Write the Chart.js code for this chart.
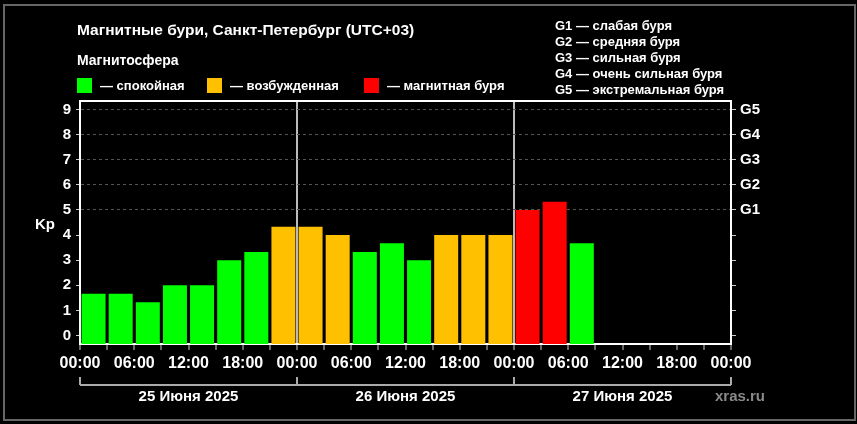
<!DOCTYPE html>
<html>
<head>
<meta charset="utf-8">
<script src="https://cdn.jsdelivr.net/npm/chart.js@4.4.0/dist/chart.umd.min.js"></script>
<style>
    html, body { margin: 0; padding: 0; background: #000; }
    body { width: 857px; height: 424px; position: relative; overflow: hidden;
           font-family: "Liberation Sans", Arial, sans-serif; font-weight: bold; color: #fff; }
    #frame { position: absolute; left: 3px; top: 4px; width: 849px; height: 413px; border: 2px solid #666; }
    canvas { position: absolute; left: 0; top: 0; }
    .txt { position: absolute; line-height: 1; white-space: nowrap; }
    .sw { position: absolute; width: 15px; height: 15px; top: 78px; }
</style>
</head>
<body>
<div id="frame"></div>
<canvas id="kp-chart" width="857" height="424"></canvas>

<div class="txt" style="left:77px; top:22px; font-size:15.5px;">Магнитные бури, Санкт-Петербург (UTC+03)</div>
<div class="txt" style="left:77px; top:53px; font-size:14px;">Магнитосфера</div>
<div class="sw" style="left:77px; background:#00ff00;"></div>
<div class="txt" style="left:100px; top:79px; font-size:13px;">— спокойная</div>
<div class="sw" style="left:207px; background:#ffc000;"></div>
<div class="txt" style="left:230px; top:79px; font-size:13px;">— возбужденная</div>
<div class="sw" style="left:364px; background:#ff0000;"></div>
<div class="txt" style="left:387px; top:79px; font-size:13px;">— магнитная буря</div>

<div class="txt" style="left:555px; top:18px; font-size:13px; line-height:16px;">
    G1 — слабая буря<br>G2 — средняя буря<br>G3 — сильная буря<br>G4 — очень сильная буря<br>G5 — экстремальная буря
</div>
<div class="txt" style="left:35px; top:216px; font-size:15px;">Kp</div>

<script>
// Kp index, 3-hour intervals starting 25.06.2025 00:00 (UTC+03)
const kpValues = [1.67, 1.67, 1.33, 2, 2, 3, 3.33, 4.33,
                  4.33, 4, 3.33, 3.67, 3, 4, 4, 4,
                  5, 5.33, 3.67];
const intervalHours = 3;
const dayLabels = ['25 Июня 2025', '26 Июня 2025', '27 Июня 2025'];
const kpTicks = [0, 1, 2, 3, 4, 5, 6, 7, 8, 9];
const stormLabels = { 5: 'G1', 6: 'G2', 7: 'G3', 8: 'G4', 9: 'G5' };
const hourTicks = [0, 3, 6, 9, 12, 15, 18, 21, 24, 27, 30, 33, 36, 39, 42, 45, 48, 51, 54, 57, 60, 63, 66, 69, 72];

const yMin = -1 / 3;
const yMax = 9 + 1 / 3;

function kpColor(v) {
    if (v >= 5) return '#ff0000';
    if (v >= 4) return '#ffc000';
    return '#00ff00';
}

const points = kpValues.map((v, i) => ({ x: i * intervalHours + intervalHours / 2, y: v }));

const frameAndDates = {
    id: 'frameAndDates',
    afterDraw(chart) {
        const ctx = chart.ctx;
        const area = chart.chartArea;
        const x = chart.scales.x;

        ctx.save();
        // top edge of plot frame
        ctx.strokeStyle = '#fff';
        ctx.lineWidth = 2;
        ctx.beginPath();
        ctx.moveTo(area.left, area.top);
        ctx.lineTo(area.right, area.top);
        ctx.stroke();

        // day brackets under the axis
        ctx.strokeStyle = '#aaa';
        ctx.lineWidth = 2;
        ctx.beginPath();
        ctx.moveTo(x.getPixelForValue(0), 385);
        ctx.lineTo(x.getPixelForValue(72), 385);
        for (let d = 0; d <= dayLabels.length; d++) {
            const px = x.getPixelForValue(d * 24);
            ctx.moveTo(px, 377);
            ctx.lineTo(px, 385);
        }
        ctx.stroke();

        ctx.fillStyle = '#fff';
        ctx.font = 'bold 15px "Liberation Sans", Arial, sans-serif';
        ctx.textAlign = 'center';
        ctx.textBaseline = 'alphabetic';
        dayLabels.forEach((label, d) => {
            ctx.fillText(label, x.getPixelForValue(d * 24 + 12), 401);
        });

        ctx.fillStyle = '#8a8a8a';
        ctx.textAlign = 'left';
        ctx.fillText('xras.ru', 715, 401);
        ctx.restore();
    }
};

const tickFont = { family: '"Liberation Sans", Arial, sans-serif', weight: 'bold' };

new Chart(document.getElementById('kp-chart'), {
    type: 'bar',
    data: {
        datasets: [{
            data: points,
            backgroundColor: kpValues.map(kpColor),
            borderWidth: 0,
            base: yMin,
            barPercentage: 0.885,
            categoryPercentage: 1
        }]
    },
    options: {
        responsive: false,
        animation: false,
        layout: { padding: { top: 101, left: 0, right: 0, bottom: 0 } },
        plugins: {
            legend: { display: false },
            tooltip: { enabled: false }
        },
        scales: {
            x: {
                type: 'linear',
                min: 0,
                max: 72,
                offset: false,
                afterBuildTicks: s => { s.ticks = hourTicks.map(v => ({ value: v })); },
                afterFit: s => { s.height = 80; },
                ticks: {
                    autoSkip: false,
                    maxRotation: 0,
                    padding: 4,
                    color: '#fff',
                    font: { ...tickFont, size: 16 },
                    callback: v => (v % 6 === 0 ? String(v % 24).padStart(2, '0') + ':00' : '')
                },
                grid: {
                    offset: false,
                    drawOnChartArea: true,
                    color: c => (c.tick && c.tick.value % 24 === 0 && c.tick.value > 0 && c.tick.value < 72 ? '#bbb' : 'transparent'),
                    lineWidth: 2,
                    tickColor: '#ccc',
                    tickLength: 6,
                    tickWidth: 1
                },
                border: { color: '#fff', width: 2 }
            },
            y: {
                position: 'left',
                min: yMin,
                max: yMax,
                afterBuildTicks: s => { s.ticks = kpTicks.map(v => ({ value: v })); },
                afterFit: s => { s.width = 80; },
                ticks: {
                    padding: 5,
                    color: '#fff',
                    font: { ...tickFont, size: 15 }
                },
                grid: {
                    color: c => (c.tick && c.tick.value >= 5 ? '#555' : 'transparent'),
                    lineWidth: 1,
                    tickColor: '#ccc',
                    tickLength: 4
                },
                border: { color: '#fff', width: 2, dash: [3, 3] }
            },
            y2: {
                position: 'right',
                min: yMin,
                max: yMax,
                afterBuildTicks: s => { s.ticks = kpTicks.map(v => ({ value: v })); },
                afterFit: s => { s.width = 126; },
                ticks: {
                    padding: 4,
                    color: '#fff',
                    font: { ...tickFont, size: 15 },
                    callback: v => stormLabels[v] || ''
                },
                grid: {
                    drawOnChartArea: false,
                    tickColor: '#ccc',
                    tickLength: 5
                },
                border: { color: '#fff', width: 2 }
            }
        }
    },
    plugins: [frameAndDates]
});
</script>
</body>
</html>
